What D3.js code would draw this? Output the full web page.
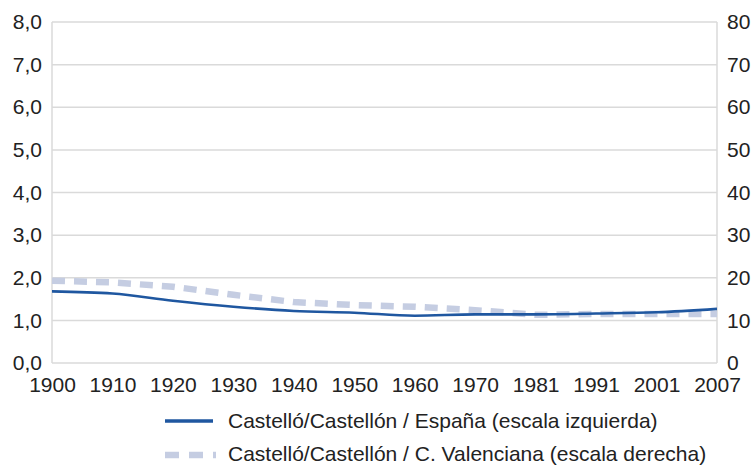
<!DOCTYPE html>
<html>
<head>
<meta charset="utf-8">
<script src="https://cdn.jsdelivr.net/npm/d3@7"></script>
<style>
  body { margin: 0; background: #fff; }
  svg { font-family: "Liberation Sans", Arial, sans-serif; }
</style>
</head>
<body>
<svg width="755" height="465"></svg>
<script>
// years on the x axis
const years = ["1900", "1910", "1920", "1930", "1940", "1950", "1960", "1970", "1981", "1991", "2001", "2007"];
// Castelló/Castellón / España (left scale)
const espana = [1.68, 1.63, 1.46, 1.32, 1.22, 1.18, 1.11, 1.14, 1.14, 1.16, 1.19, 1.27];
// Castelló/Castellón / C. Valenciana (right scale)
const valenciana = [19.3, 18.9, 17.9, 16.0, 14.3, 13.6, 13.2, 12.4, 11.3, 11.5, 11.5, 11.5];
const leftTicks = [0, 1, 2, 3, 4, 5, 6, 7, 8];
const rightTicks = [0, 10, 20, 30, 40, 50, 60, 70, 80];
const labels = ["Castelló/Castellón / España (escala izquierda)",
                "Castelló/Castellón / C. Valenciana (escala derecha)"];

var margin = {top: 22, right: 38, bottom: 102, left: 52};
var svg = d3.select("svg");
var width = 755 - margin.left - margin.right;
var height = 465 - margin.top - margin.bottom;
var g = svg.append("g").attr("transform", `translate(${margin.left},${margin.top})`);

var x = d3.scalePoint().domain(years).range([0, width]);
var yL = d3.scaleLinear().domain([0, 8]).range([height, 0]);
var yR = d3.scaleLinear().domain([0, 80]).range([height, 0]);

// grid
g.append("g")
 .selectAll("line")
 .data(leftTicks)
 .enter().append("line")
 .attr("x1", 0).attr("x2", width)
 .attr("y1", d => yL(d)).attr("y2", d => yL(d))
 .attr("stroke", "#dadada").attr("stroke-width", 1.5);

g.append("line").attr("x1", 0).attr("x2", 0).attr("y1", 0).attr("y2", height)
 .attr("stroke", "#dadada").attr("stroke-width", 1.5);
g.append("line").attr("x1", width).attr("x2", width).attr("y1", 0).attr("y2", height)
 .attr("stroke", "#dadada").attr("stroke-width", 1.5);

var fmt = d => d.toFixed(1).replace(".", ",");

var axL = g.append("g")
 .call(d3.axisLeft(yL).tickValues(leftTicks).tickFormat(fmt).tickSize(0).tickPadding(10));
var axR = g.append("g").attr("transform", `translate(${width},0)`)
 .call(d3.axisRight(yR).tickValues(rightTicks).tickSize(0).tickPadding(10));
var axB = g.append("g").attr("transform", `translate(0,${height})`)
 .call(d3.axisBottom(x).tickSize(0).tickPadding(14));

[axL, axR, axB].forEach(a => {
  a.select(".domain").remove();
  a.selectAll("text").attr("font-size", 21).attr("fill", "#222")
   .attr("font-family", "Liberation Sans, Arial, sans-serif");
});

// lines
var lineR = d3.line().x((d, i) => x(years[i])).y(d => yR(d));
var lineL = d3.line().x((d, i) => x(years[i])).y(d => yL(d)).curve(d3.curveMonotoneX);

g.append("path").datum(valenciana)
 .attr("d", lineR)
 .attr("fill", "none")
 .attr("stroke", "#c5cde2")
 .attr("stroke-width", 6.5)
 .attr("stroke-dasharray", "13,9");

g.append("path").datum(espana)
 .attr("d", lineL)
 .attr("fill", "none")
 .attr("stroke", "#1f57a0")
 .attr("stroke-width", 2.6);

// legend
var leg = svg.append("g");
leg.append("line").attr("x1", 165).attr("x2", 213).attr("y1", 421).attr("y2", 421)
 .attr("stroke", "#1f57a0").attr("stroke-width", 3.5);
leg.append("line").attr("x1", 165).attr("x2", 216).attr("y1", 455).attr("y2", 455)
 .attr("stroke", "#c5cde2").attr("stroke-width", 6.5).attr("stroke-dasharray", "14,10");
leg.selectAll("text")
 .data(labels)
 .enter().append("text")
 .attr("x", 228)
 .attr("y", (d, i) => 421 + i * 33)
 .attr("dy", "0.35em")
 .attr("font-size", 21)
 .attr("fill", "#222")
 .text(d => d);
</script>
</body>
</html>
